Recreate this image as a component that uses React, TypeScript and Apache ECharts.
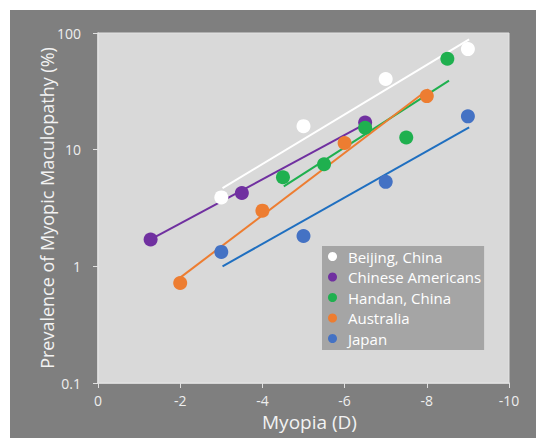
import React, { useEffect, useRef } from "react";
import * as echarts from "echarts";

// Scatter data (x = myopia in D, y = prevalence %)
const beijingX = [-3, -5, -7, -9];
const beijingY = [3.9, 15.9, 40.3, 72.8];
const chineseAmX = [-1.28, -3.5, -6.5];
const chineseAmY = [1.7, 4.25, 17.1];
const handanX = [-4.5, -5.5, -6.5, -7.5, -8.5];
const handanY = [5.8, 7.5, 15.4, 12.7, 60.2];
const australiaX = [-2, -4, -6, -8];
const australiaY = [0.72, 3.0, 11.4, 28.8];
const japanX = [-3, -5, -7, -9];
const japanY = [1.33, 1.82, 5.3, 19.3];

// Trend line end points
const beijingTrendX = [-3.03, -9.03];
const beijingTrendY = [4.69, 88];
const chineseAmTrendX = [-1.28, -6.39];
const chineseAmTrendY = [1.7, 15.8];
const handanTrendX = [-4.52, -8.54];
const handanTrendY = [4.85, 39];
const australiaTrendX = [-2.0, -8.04];
const australiaTrendY = [0.8, 32.9];
const japanTrendX = [-3.03, -9.03];
const japanTrendY = [1.0, 15.5];

const names = ["Beijing, China", "Chinese Americans", "Handan, China", "Australia", "Japan"];
const dotColors = ["#ffffff", "#7030a0", "#1fb04f", "#ed7d31", "#4472c4"];
const lineColors = ["#ffffff", "#7030a0", "#1fb04f", "#ed7d31", "#1f6fc0"];

const xTicks = { min: -10, max: 0, interval: 2 };
const yTicks = { min: 0.1, max: 100 };

const zip = (xs: number[], ys: number[]) => xs.map((x, i) => [x, ys[i]]);

export default function App() {
  const ref = useRef<HTMLDivElement>(null);
  useEffect(() => {
    if (!ref.current) return;
    const chart = echarts.init(ref.current, undefined, { renderer: "svg" });
    const font = "Open Sans";
    const pts = [
      zip(beijingX, beijingY),
      zip(chineseAmX, chineseAmY),
      zip(handanX, handanY),
      zip(australiaX, australiaY),
      zip(japanX, japanY),
    ];
    const trends = [
      zip(beijingTrendX, beijingTrendY),
      zip(chineseAmTrendX, chineseAmTrendY),
      zip(handanTrendX, handanTrendY),
      zip(australiaTrendX, australiaTrendY),
      zip(japanTrendX, japanTrendY),
    ];
    const series: any[] = [];
    trends.forEach((d, i) => {
      series.push({
        type: "line",
        name: names[i] + " trend",
        data: d,
        showSymbol: false,
        lineStyle: { color: lineColors[i], width: 2 },
        z: 2,
      });
    });
    pts.forEach((d, i) => {
      series.push({
        type: "scatter",
        name: names[i],
        data: d,
        symbol: "circle",
        symbolSize: 14,
        itemStyle: { color: dotColors[i], opacity: 1 },
        z: 3,
      });
    });
    chart.setOption({
      animation: false,
      backgroundColor: "#7f7f7f",
      textStyle: { fontFamily: font },
      grid: {
        left: 88,
        right: 27,
        top: 23,
        bottom: 55,
        show: true,
        backgroundColor: "#d9d9d9",
        borderColor: "#e4e4e4",
        borderWidth: 1,
      },
      legend: {
        data: names,
        orient: "vertical",
        left: 312,
        top: 236,
        backgroundColor: "#a5a5a5",
        padding: [3, 3, 4, 6],
        itemWidth: 9,
        itemHeight: 9,
        itemGap: 5.5,
        icon: "circle",
        textStyle: { color: "#ffffff", fontSize: 15, fontFamily: font, padding: [0, 0, 0, 6] },
      },
      xAxis: {
        type: "value",
        inverse: true,
        min: xTicks.min,
        max: xTicks.max,
        interval: xTicks.interval,
        name: "Myopia (D)",
        nameLocation: "middle",
        nameGap: 29,
        nameMoveOverlap: false,
        nameTextStyle: { color: "#f2f2f2", fontSize: 19, fontFamily: font, padding: [0, 0, 0, 12] },
        axisLine: { show: true, onZero: false, lineStyle: { color: "#e0e0e0", width: 1.5 } },
        axisTick: { show: true, length: 5, lineStyle: { color: "#e0e0e0" } },
        axisLabel: { color: "#eeeeee", fontSize: 14, margin: 10, fontFamily: font },
        splitLine: { show: false },
      },
      yAxis: {
        type: "log",
        logBase: 10,
        min: yTicks.min,
        max: yTicks.max,
        name: "Prevalence of Myopic Maculopathy (%)",
        nameLocation: "middle",
        nameGap: 42,
        nameMoveOverlap: false,
        nameTextStyle: { color: "#f2f2f2", fontSize: 18, fontFamily: font },
        axisLine: { show: true, lineStyle: { color: "#e0e0e0", width: 1.5 } },
        axisTick: { show: true, length: 5, lineStyle: { color: "#e0e0e0" } },
        axisLabel: { color: "#eeeeee", fontSize: 14, margin: 17, fontFamily: font },
        splitLine: { show: false },
      },
      series,
    });
    return () => chart.dispose();
  }, []);
  return (
    <div style={{ position: "fixed", left: 0, top: 0, width: 536, height: 438, background: "#ffffff" }}>
      <div ref={ref} style={{ position: "absolute", left: 10, top: 10, width: 526, height: 428 }} />
    </div>
  );
}
